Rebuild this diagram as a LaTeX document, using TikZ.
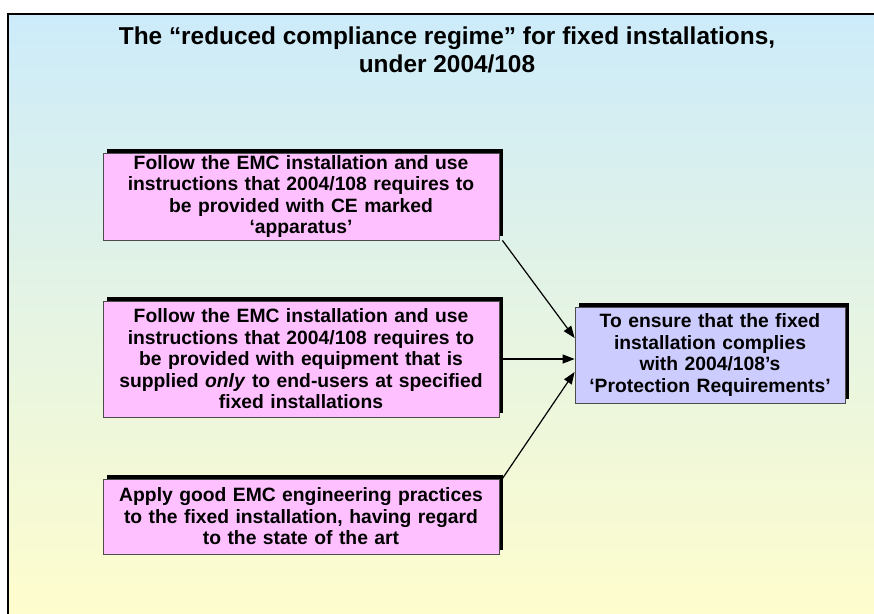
\documentclass[tikz,border=0pt]{standalone}
\usepackage{fontspec}
\setmainfont{Liberation Sans}
\usetikzlibrary{arrows.meta,shadows}
\definecolor{skyblue}{RGB}{204,235,250}
\definecolor{paleyellow}{RGB}{255,253,204}
\definecolor{boxpink}{RGB}{255,192,255}
\definecolor{boxlilac}{RGB}{204,204,255}
\begin{document}
\begin{tikzpicture}[x=1pt, y=-1pt,
    stepbox/.style={draw=black!70, line width=0.8pt, fill=boxpink, align=center,
        font=\bfseries\fontsize{19.3}{21.5}\selectfont, inner sep=0pt,
        text width=388pt, minimum width=396pt,
        drop shadow={shadow xshift=4pt, shadow yshift=4pt, opacity=1, fill=black}},
    goalbox/.style={stepbox, fill=boxlilac, text width=264pt, minimum width=270pt},
    link/.style={line width=1.2pt, -{Triangle[length=12pt,width=9pt]}}]
    \useasboundingbox (0,0) rectangle (874,613);

    %background
    \shade[top color=skyblue, bottom color=paleyellow] (8,14) rectangle (884,624);
    \draw[line width=2pt] (8,14) rectangle (884,624);

    %title
    \node[align=center, font=\bfseries\fontsize{24.4}{28}\selectfont] (title) at (447,50)
        {The “reduced compliance regime” for fixed installations,\\under 2004/108};

    %boxes
    \node[stepbox, minimum height=87pt] (apparatus) at (301,196.5)
        {Follow the EMC installation and use\\instructions that 2004/108 requires to\\be provided with CE marked\\‘apparatus’};
    \node[stepbox, minimum height=116pt] (equipment) at (301,359)
        {Follow the EMC installation and use\\instructions that 2004/108 requires to\\be provided with equipment that is\\supplied \textit{only} to end-users at specified\\fixed installations};
    \node[stepbox, minimum height=75pt] (practice) at (301,516.5)
        {Apply good EMC engineering practices\\to the fixed installation, having regard\\to the state of the art};
    \node[goalbox, minimum height=96pt] (goal) at (710,355)
        {To ensure that the fixed\\installation complies\\with 2004/108’s\\‘Protection Requirements’};

    %arrows
    \draw[link] ([xshift=3pt]apparatus.south east) -- ([yshift=17pt]goal.west);
    \draw[link] ([xshift=4pt]equipment.east) -- (equipment.east -| goal.west);
    \draw[link] ([xshift=3pt]practice.north east) -- ([yshift=-17pt]goal.west);
\end{tikzpicture}
\end{document}
